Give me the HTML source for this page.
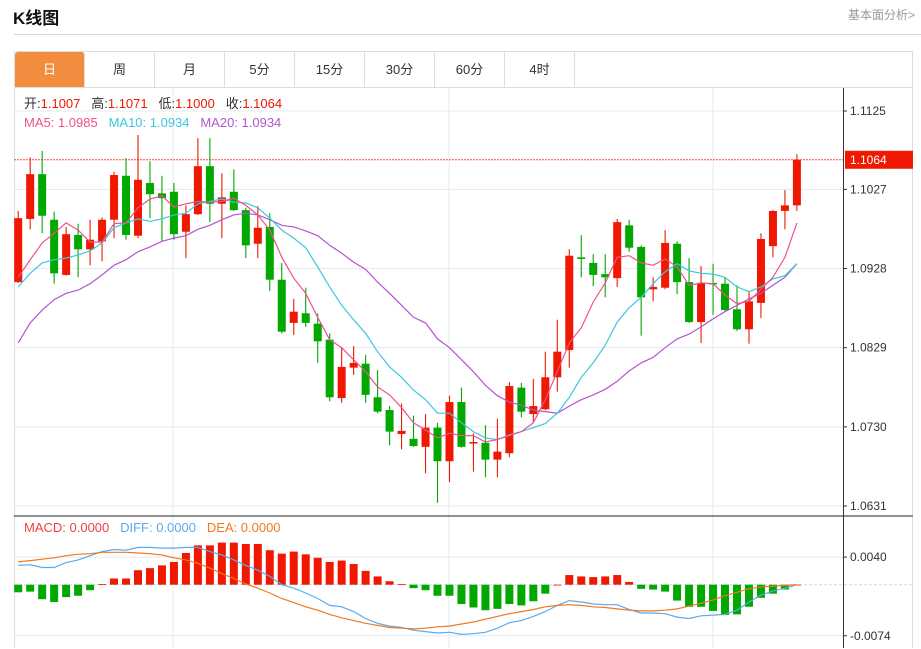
<!DOCTYPE html>
<html><head><meta charset="utf-8">
<style>
body{margin:0;width:921px;height:649px;background:#fff;font-family:"Liberation Sans","Noto Sans CJK SC",sans-serif;overflow:hidden;position:relative}
#title{position:absolute;left:13px;top:4px;font-size:17px;font-weight:bold;color:#111}
#more{position:absolute;right:6px;top:6px;font-size:12px;color:#999}
#hr{position:absolute;left:14px;right:0;top:34px;height:1px;background:#d4d4d4}
#box{position:absolute;left:14px;top:51px;width:899px;height:597px;border:1px solid #ddd;border-bottom:none;box-sizing:border-box}
.tab{position:absolute;top:52px;height:35px;width:70px;line-height:35px;text-align:center;font-size:13px;color:#333;border-right:1px solid #ddd;box-sizing:border-box}
.tab.on{background:#f28c3e;color:#fff;border-radius:3px 3px 0 0}
svg{position:absolute;left:0;top:0}
</style></head><body>
<div id="title">K线图</div>
<div id="more">基本面分析&gt;</div>
<div id="hr"></div>
<div id="box"></div>
<div class="tab on" style="left:15px">日</div>
<div class="tab" style="left:85px">周</div>
<div class="tab" style="left:155px">月</div>
<div class="tab" style="left:225px">5分</div>
<div class="tab" style="left:295px">15分</div>
<div class="tab" style="left:365px">30分</div>
<div class="tab" style="left:435px">60分</div>
<div class="tab" style="left:505px">4时</div>
<svg id="chart" width="921" height="649"></svg>
<script>
const opens=[1.0911,1.0990,1.1046,1.0989,1.0920,1.0970,1.0952,1.0962,1.0989,1.1044,1.0969,1.1035,1.1022,1.1024,1.0974,1.0996,1.1056,1.1009,1.1024,1.1001,1.0959,1.0980,1.0914,1.0860,1.0872,1.0859,1.0839,1.0766,1.0804,1.0809,1.0767,1.0751,1.0721,1.0715,1.0705,1.0729,1.0687,1.0761,1.0710,1.0710,1.0689,1.0697,1.0779,1.0746,1.0752,1.0792,1.0826,1.0942,1.0935,1.0921,1.0916,1.0982,1.0955,1.0902,1.0904,1.0959,1.0911,1.0861,1.0910,1.0909,1.0877,1.0852,1.0885,1.0956,1.1000,1.1007];
const highs=[1.1000,1.1067,1.1075,1.0999,1.0980,1.0984,1.0989,1.0992,1.1049,1.1066,1.1095,1.1062,1.1044,1.1035,1.1007,1.1091,1.1091,1.1047,1.1052,1.1004,1.1006,1.0997,1.0935,1.0890,1.0904,1.0872,1.0847,1.0829,1.0831,1.0820,1.0801,1.0756,1.0759,1.0744,1.0746,1.0735,1.0769,1.0779,1.0722,1.0732,1.0740,1.0786,1.0785,1.0790,1.0824,1.0864,1.0952,1.0970,1.0946,1.0946,1.0990,1.0989,1.0957,1.0917,1.0976,1.0962,1.0941,1.0931,1.0934,1.0917,1.0907,1.0899,1.0972,1.1001,1.1026,1.1071];
const lows=[1.0910,1.0977,1.0972,1.0909,1.0919,1.0917,1.0932,1.0937,1.0966,1.0964,1.0966,1.0991,1.0962,1.0964,1.0941,1.0995,1.0986,1.0966,1.1000,1.0941,1.0941,1.0900,1.0847,1.0845,1.0855,1.0810,1.0762,1.0760,1.0795,1.0760,1.0747,1.0707,1.0702,1.0705,1.0672,1.0635,1.0661,1.0704,1.0674,1.0667,1.0667,1.0692,1.0742,1.0735,1.0751,1.0774,1.0804,1.0917,1.0906,1.0892,1.0905,1.0949,1.0844,1.0887,1.0902,1.0896,1.0860,1.0835,1.0870,1.0875,1.0850,1.0834,1.0866,1.0942,1.0977,1.1000];
const closes=[1.0991,1.1046,1.0994,1.0922,1.0971,1.0952,1.0964,1.0989,1.1045,1.0970,1.1039,1.1021,1.1016,1.0971,1.0996,1.1056,1.1009,1.1017,1.1001,1.0957,1.0979,1.0914,1.0849,1.0874,1.0860,1.0837,1.0767,1.0805,1.0810,1.0770,1.0749,1.0724,1.0725,1.0706,1.0729,1.0687,1.0761,1.0705,1.0711,1.0689,1.0699,1.0781,1.0749,1.0756,1.0792,1.0824,1.0944,1.0940,1.0920,1.0917,1.0986,1.0954,1.0892,1.0905,1.0960,1.0911,1.0861,1.0910,1.0909,1.0876,1.0852,1.0887,1.0965,1.1000,1.1007,1.1064];
const ma5=[1.0917,1.0939,1.0960,1.0972,1.0985,1.0976,1.0961,1.0961,1.0984,1.0985,1.1004,1.1015,1.1019,1.1005,1.1009,1.1012,1.1011,1.1012,1.1016,1.1007,1.0995,1.0976,1.0942,1.0916,1.0897,1.0867,1.0839,1.0829,1.0814,1.0799,1.0780,1.0770,1.0754,1.0735,1.0726,1.0716,1.0722,1.0719,1.0719,1.0711,1.0714,1.0719,1.0724,1.0735,1.0764,1.0799,1.0835,1.0854,1.0886,1.0910,1.0942,1.0944,1.0935,1.0932,1.0940,1.0930,1.0907,1.0910,1.0909,1.0895,1.0884,1.0887,1.0902,1.0917,1.0942,1.0985];
const ma10=[1.0905,1.0922,1.0935,1.0939,1.0941,1.0945,1.0950,1.0960,1.0979,1.0985,1.0990,1.0987,1.0990,1.0995,1.0997,1.1009,1.1012,1.1015,1.1011,1.1010,1.1004,1.0991,1.0976,1.0966,1.0954,1.0930,1.0905,1.0882,1.0864,1.0847,1.0824,1.0805,1.0792,1.0776,1.0764,1.0747,1.0747,1.0735,1.0724,1.0716,1.0714,1.0720,1.0724,1.0729,1.0734,1.0747,1.0767,1.0792,1.0810,1.0832,1.0861,1.0879,1.0892,1.0909,1.0924,1.0934,1.0925,1.0922,1.0921,1.0917,1.0905,1.0899,1.0905,1.0915,1.0919,1.0934];
const ma20=[1.0835,1.0860,1.0876,1.0889,1.0897,1.0901,1.0909,1.0920,1.0932,1.0939,1.0949,1.0955,1.0962,1.0966,1.0969,1.0977,1.0982,1.0989,1.0995,1.0997,1.0995,1.0989,1.0982,1.0980,1.0975,1.0969,1.0957,1.0947,1.0936,1.0927,1.0911,1.0897,1.0882,1.0867,1.0860,1.0840,1.0829,1.0814,1.0799,1.0782,1.0769,1.0761,1.0757,1.0751,1.0749,1.0747,1.0756,1.0764,1.0770,1.0777,1.0787,1.0800,1.0810,1.0817,1.0829,1.0840,1.0846,1.0855,1.0865,1.0874,1.0882,1.0890,1.0897,1.0907,1.0917,1.0934];
const macd=[-0.0011,-0.0010,-0.0021,-0.0025,-0.0018,-0.0016,-0.0008,0.0001,0.0009,0.0009,0.0021,0.0024,0.0028,0.0033,0.0046,0.0057,0.0057,0.0061,0.0061,0.0059,0.0059,0.0050,0.0045,0.0048,0.0044,0.0039,0.0033,0.0035,0.0030,0.0020,0.0012,0.0005,0.0001,-0.0005,-0.0008,-0.0016,-0.0016,-0.0028,-0.0033,-0.0037,-0.0035,-0.0028,-0.0030,-0.0024,-0.0013,0.0000,0.0014,0.0012,0.0011,0.0012,0.0014,0.0004,-0.0006,-0.0007,-0.0010,-0.0023,-0.0032,-0.0032,-0.0038,-0.0044,-0.0043,-0.0032,-0.0019,-0.0013,-0.0007,0.0000];
const diff=[0.0028,0.0029,0.0025,0.0025,0.0032,0.0036,0.0042,0.0048,0.0051,0.0050,0.0054,0.0054,0.0053,0.0053,0.0054,0.0054,0.0048,0.0043,0.0036,0.0028,0.0021,0.0012,0.0000,-0.0005,-0.0012,-0.0020,-0.0030,-0.0032,-0.0039,-0.0049,-0.0056,-0.0060,-0.0062,-0.0066,-0.0068,-0.0070,-0.0069,-0.0072,-0.0071,-0.0069,-0.0063,-0.0055,-0.0052,-0.0046,-0.0039,-0.0030,-0.0023,-0.0025,-0.0028,-0.0029,-0.0029,-0.0036,-0.0041,-0.0041,-0.0042,-0.0047,-0.0049,-0.0045,-0.0044,-0.0043,-0.0037,-0.0025,-0.0015,-0.0009,-0.0005,0.0000];
const dea=[0.0033,0.0035,0.0037,0.0039,0.0042,0.0044,0.0045,0.0047,0.0047,0.0047,0.0046,0.0045,0.0043,0.0039,0.0036,0.0031,0.0024,0.0016,0.0009,0.0001,-0.0005,-0.0012,-0.0020,-0.0026,-0.0032,-0.0037,-0.0043,-0.0048,-0.0052,-0.0056,-0.0059,-0.0062,-0.0063,-0.0064,-0.0063,-0.0061,-0.0060,-0.0057,-0.0054,-0.0050,-0.0046,-0.0042,-0.0039,-0.0036,-0.0032,-0.0030,-0.0029,-0.0030,-0.0032,-0.0033,-0.0035,-0.0037,-0.0038,-0.0038,-0.0037,-0.0035,-0.0031,-0.0027,-0.0022,-0.0016,-0.0011,-0.0006,-0.0003,-0.0002,-0.0001,0.0000];
const priceTicks=[1.1125,1.1027,1.0928,1.0829,1.0730,1.0631];
const macdTicks=[0.0040,-0.0074];
const lastPrice=1.1064;

const NS='http://www.w3.org/2000/svg';
const svg=document.getElementById('chart');
function mk(tag,attrs,parent){const e=document.createElementNS(NS,tag);for(const k in attrs)e.setAttribute(k,attrs[k]);(parent||svg).appendChild(e);return e;}
const xOf=i=>18.2+i*11.98;
const yP=p=>111+(1.1125-p)*7996;
const yM=v=>584.7+(-v)*6900;

[173,449,713].forEach(x=>{const l=mk('line',{x1:x,x2:x,y1:88,y2:648,stroke:'#e3eaf1'});

});
mk('line',{x1:14,x2:913,y1:87.5,y2:87.5,stroke:'#ddd'});
priceTicks.forEach(p=>{const y=yP(p);
const g=mk('line',{x1:14,x2:843,y1:y,y2:y,stroke:'#e3eaf1'});


mk('line',{x1:843,x2:847,y1:y,y2:y,stroke:'#333'});
const t=mk('text',{x:850,y:y+4,'font-size':12,fill:'#333'});t.textContent=p.toFixed(4);

});
macdTicks.forEach(v=>{const y=yM(v);
const g=mk('line',{x1:14,x2:843,y1:y,y2:y,stroke:'#e3eaf1'});


mk('line',{x1:843,x2:847,y1:y,y2:y,stroke:'#333'});
const t=mk('text',{x:850,y:y+4,'font-size':12,fill:'#333'});t.textContent=v.toFixed(4);

});
mk('line',{x1:843.5,x2:843.5,y1:88,y2:648,stroke:'#333'});
mk('line',{x1:14,x2:913,y1:516,y2:516,stroke:'#222'});
const ly=yP(lastPrice);
const lp=mk('line',{x1:14,x2:843,y1:ly,y2:ly,stroke:'#f44','stroke-dasharray':'2,1'});


mk('rect',{x:845,y:ly-9,width:68,height:18,fill:'#f01800'});
const lt=mk('text',{x:850,y:ly+4,'font-size':12,fill:'#fff'});lt.textContent=lastPrice.toFixed(4);


const zl=mk('line',{x1:14,x2:913,y1:yM(0),y2:yM(0),stroke:'#bfe0ee','stroke-dasharray':'3,2'});


closes.forEach((c,i)=>{const o=opens[i],up=c>=o,col=up?'#f01800':'#00a800',x=xOf(i);
const g=mk('g',{});


mk('line',{x1:x,x2:x,y1:yP(highs[i]),y2:yP(lows[i]),stroke:col,'stroke-width':1.1},g);
const t=yP(Math.max(o,c)),b=yP(Math.min(o,c));
mk('rect',{x:x-4,y:t,width:8,height:Math.max(1.5,b-t),fill:col},g);});
function line(arr,yf,col,name){const d=arr.map((v,i)=>(i?'L':'M')+xOf(i).toFixed(1)+','+yf(v).toFixed(1)).join('');
const p=mk('path',{d:d,fill:'none',stroke:col,'stroke-width':1.2});

}
line(ma20,yP,'#b455cc','ma20-line');
line(ma10,yP,'#3cc8de','ma10-line');
line(ma5,yP,'#f0508a','ma5-line');
macd.forEach((v,i)=>{const y0=yM(0),y1=yM(v);
const r=mk('rect',{x:xOf(i)-4,y:Math.min(y0,y1),width:8,height:Math.max(Math.abs(y1-y0),0.8),fill:v>=0?'#f01800':'#00a800'});

});
line(diff,yM,'#5aaaf0','diff-line');
line(dea,yM,'#f07a1e','dea-line');
function leg(x,y,parts,name){const t=mk('text',{x:x,y:y,'font-size':13});


t.style.whiteSpace='pre';
parts.forEach(([s,c])=>{const ts=mk('tspan',{fill:c},t);ts.textContent=s;});}
leg(24,108,[['开:','#333'],['1.1007   ','#f01800'],['高:','#333'],['1.1071   ','#f01800'],['低:','#333'],['1.1000   ','#f01800'],['收:','#333'],['1.1064','#f01800']],'ohlc-legend');
leg(24,127,[['MA5: 1.0985   ','#f0508a'],['MA10: 1.0934   ','#3cc8de'],['MA20: 1.0934','#b455cc']],'ma-legend');
leg(24,532,[['MACD: 0.0000   ','#f04040'],['DIFF: 0.0000   ','#5aaaf0'],['DEA: 0.0000','#f07a1e']],'macd-legend');
</script>
</body></html>
